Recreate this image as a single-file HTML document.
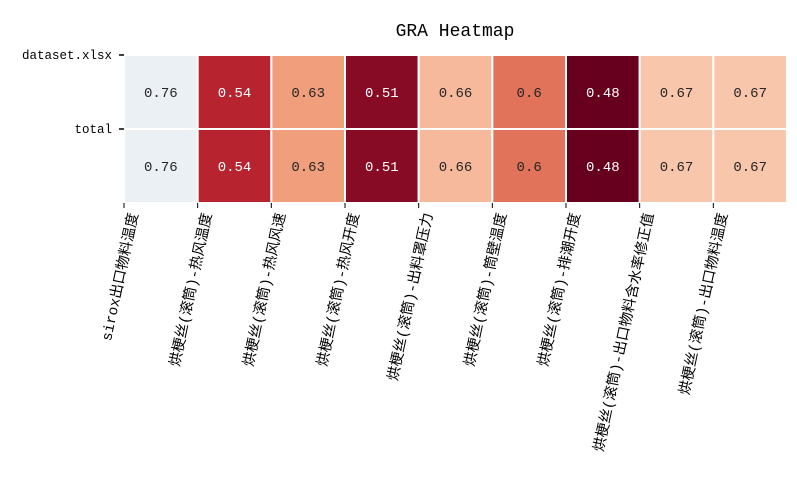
<!DOCTYPE html>
<html><head><meta charset="utf-8"><style>
html,body{margin:0;padding:0;background:#fff;}
svg text{font-family:"Liberation Mono","WenQuanYi Zen Hei","Noto Sans CJK SC",monospace;}
</style></head><body>
<svg id="chart" width="797" height="476">
<text x="455" y="36" font-size="18" text-anchor="middle" fill="#000">GRA Heatmap</text>
<g id="cells"></g>
<g id="xaxis"></g>
<g id="yaxis"></g>
</svg>
<script>
const rowLabels = ["dataset.xlsx","total"];
const colLabels = ["sirox出口物料温度","烘梗丝(滚筒)-热风温度","烘梗丝(滚筒)-热风风速","烘梗丝(滚筒)-热风开度","烘梗丝(滚筒)-出料罩压力","烘梗丝(滚筒)-筒壁温度","烘梗丝(滚筒)-排潮开度","烘梗丝(滚筒)-出口物料含水率修正值","烘梗丝(滚筒)-出口物料温度"];
const row1Values = [0.76,0.54,0.63,0.51,0.66,0.6,0.48,0.67,0.67];
const row2Values = [0.76,0.54,0.63,0.51,0.66,0.6,0.48,0.67,0.67];
const rowsData = [row1Values,row2Values];

const NS="http://www.w3.org/2000/svg";
const x0=124,x1=787,y0=55,y1=203;
const cw=(x1-x0)/colLabels.length, rh=(y1-y0)/rowLabels.length;
const xPos=i=>x0+i*cw, yPos=j=>y0+j*rh;
const stops=[[0.48,[103,0,31]],[0.51,[135,11,36]],[0.54,[184,35,48]],[0.60,[224,115,90]],[0.63,[240,158,124]],[0.66,[247,185,156]],[0.67,[248,198,171]],[0.76,[235,240,245]]];
function color(v){
  if(v<=stops[0][0])return "rgb("+stops[0][1]+")";
  for(let k=1;k<stops.length;k++){if(v<=stops[k][0]){const a=stops[k-1],b=stops[k],t=(v-a[0])/(b[0]-a[0]);return "rgb("+a[1].map((c,i)=>Math.round(c+(b[1][i]-c)*t)).join(",")+")";}}
  return "rgb("+stops[stops.length-1][1]+")";
}
function mk(tag,attrs,parent){const e=document.createElementNS(NS,tag);for(const k in attrs)e.setAttribute(k,attrs[k]);parent.appendChild(e);return e;}
const cells=document.getElementById("cells");
rowsData.forEach((row,j)=>row.forEach((v,i)=>{
  const r=mk("rect",{x:xPos(i),y:yPos(j),width:cw,height:rh,fill:color(v),stroke:"#fff","stroke-width":2},cells);
  
  
  const t=mk("text",{x:xPos(i)+cw/2,y:yPos(j)+rh/2+5,"font-size":14,"text-anchor":"middle",fill:v<0.58?"#fff":"#262626"},cells);
  t.textContent=String(v);
  
  
}));
const xa=document.getElementById("xaxis");
colLabels.forEach((lab,i)=>{
  const x=xPos(i);
  const tk=mk("line",{x1:x,x2:x,y1:y1,y2:y1+5,stroke:"#000","stroke-width":1},xa);
  
  
  const t=mk("text",{x:0,y:0,"font-size":14.5,"text-anchor":"end",fill:"#000",transform:`translate(${x+14},${y1+11}) rotate(-78)`},xa);
  t.textContent=lab;
  
  
});
const ya=document.getElementById("yaxis");
rowLabels.forEach((lab,j)=>{
  const y=yPos(j);
  const tk=mk("line",{x1:x0-5,x2:x0,y1:y,y2:y,stroke:"#000","stroke-width":1.5},ya);
  
  
  const t=mk("text",{x:x0-12,y:y+4,"font-size":12.5,"text-anchor":"end",fill:"#000"},ya);
  t.textContent=lab;
  
  
});
</script>
</body></html>
